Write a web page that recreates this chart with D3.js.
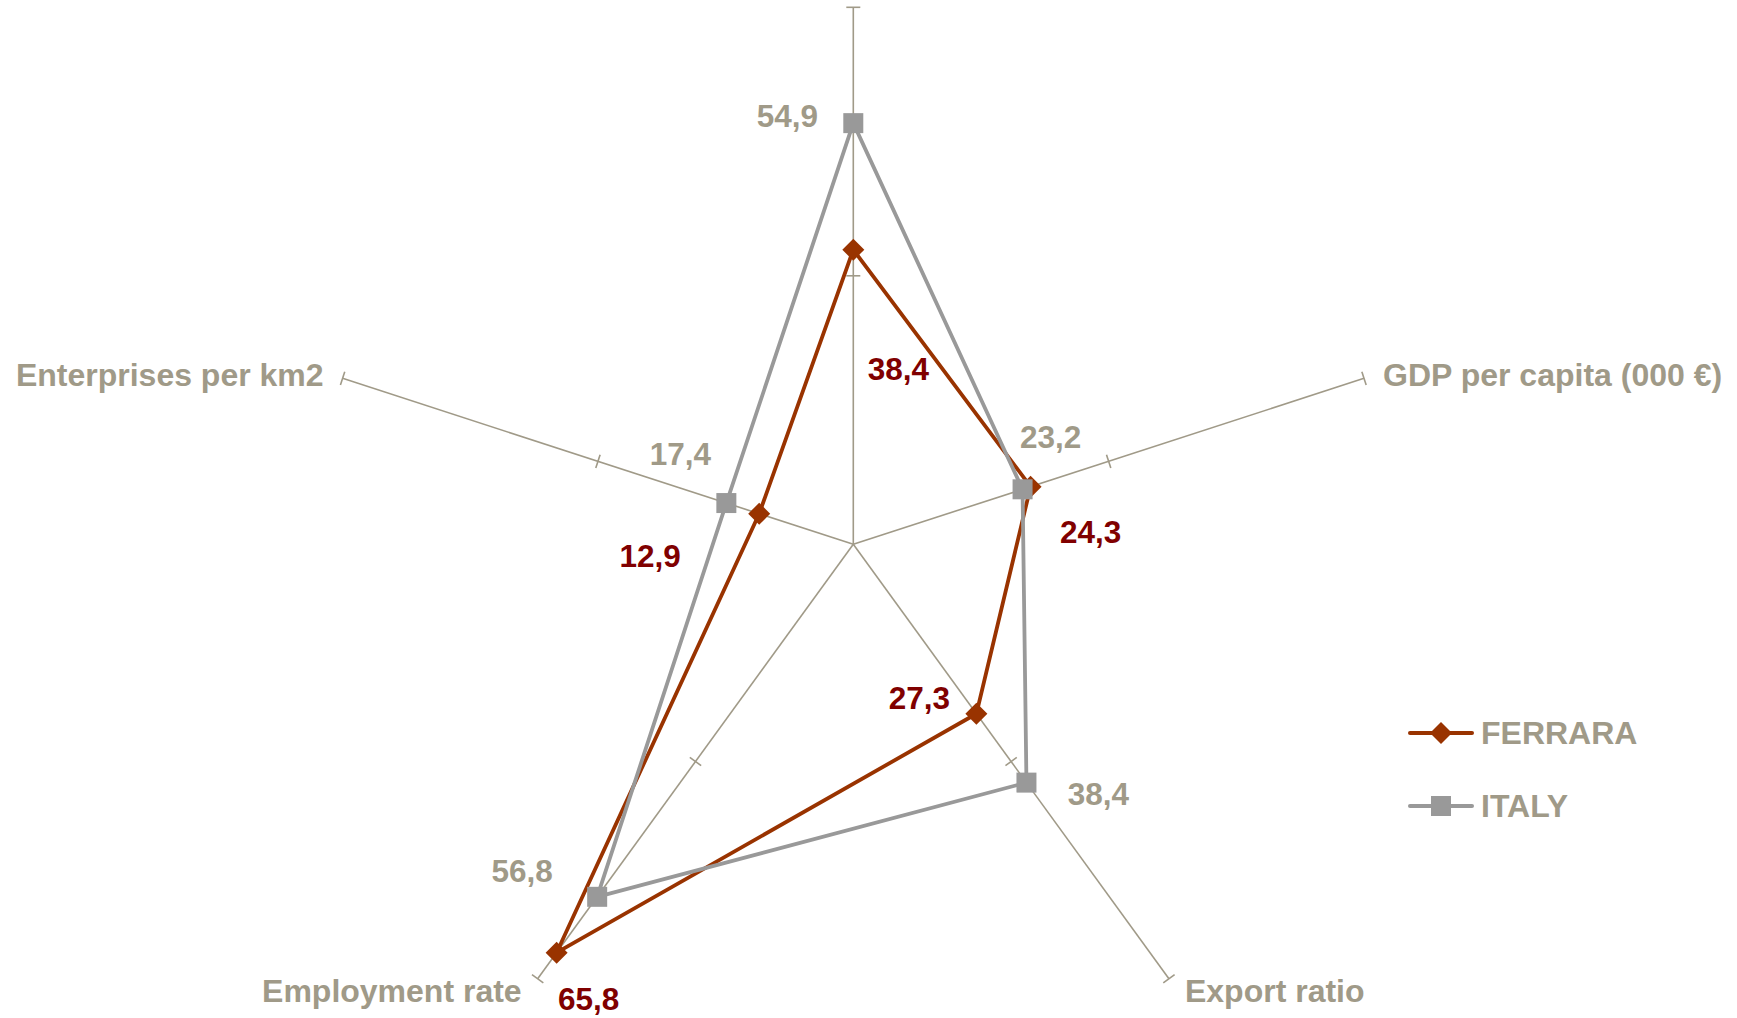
<!DOCTYPE html>
<html>
<head>
<meta charset="utf-8">
<script src="https://cdn.jsdelivr.net/npm/d3@7/dist/d3.min.js"></script>
<style>
	html, body { margin: 0; padding: 0; background: #ffffff; }
	svg { display: block; }
	text { font-family: "Liberation Sans", Arial, sans-serif; font-weight: bold; }
</style>
</head>
<body>
<svg id="chart" width="1737" height="1018"></svg>
<script>
// data
var categories = ["", "GDP per capita (000 €)", "Export ratio", "Employment rate", "Enterprises per km2"];
var seriesNames = ["FERRARA", "ITALY"];
var ferraraValues = [38.4, 24.3, 27.3, 65.8, 12.9];
var italyValues = [54.9, 23.2, 38.4, 56.8, 17.4];
var axisTicks = [35, 70];

// layout
var width = 1737, height = 1018;
var cx = 853.3, cy = 544.3, radius = 537;
var axisColor = "#a09a88";
var ferraraColor = "#993300";
var ferraraLabelColor = "#800000";
var italyColor = "#999999";

// where each value label sits, relative to its point
var ferraraLabelOffsets = [[45, 119], [60, 45], [-57, -16], [32, 46], [-109, 42]];
var italyLabelOffsets = [[-66, -7], [28, -53], [72, 11], [-75, -26], [-46, -49]];

var svg = d3.select("#chart");
var g = svg.append("g").attr("transform", "translate(" + cx + "," + cy + ")");

var r = d3.scaleLinear().domain([0, 70]).range([0, radius]);
var angle = d3.scaleLinear().domain([0, categories.length]).range([0, 2 * Math.PI]);
var fmt = d3.formatLocale({ decimal: ",", thousands: ".", grouping: [3], currency: ["€", ""] }).format(".1f");

function pointAt (i, value) {
	var a = angle(i);
	return [Math.sin(a) * r(value), -Math.cos(a) * r(value)];
};

// axes with tick marks
categories.forEach(function (cat, i) {
	var end = pointAt(i, 70);
	g.append("line")
		.attr("x1", 0).attr("y1", 0)
		.attr("x2", end[0]).attr("y2", end[1])
		.attr("stroke", axisColor)
		.attr("stroke-width", 1.6);

	var a = angle(i);
	var px = Math.cos(a), py = Math.sin(a);
	axisTicks.forEach(function (t) {
		var p = pointAt(i, t);
		g.append("line")
			.attr("x1", p[0] - px * 7).attr("y1", p[1] - py * 7)
			.attr("x2", p[0] + px * 7).attr("y2", p[1] + py * 7)
			.attr("stroke", axisColor)
			.attr("stroke-width", 1.6);
	});

	if (!cat) return;
	var label = g.append("text")
		.attr("fill", axisColor)
		.attr("font-size", "32px")
		.text(cat);
	var left = end[0] < 0;
	var low = end[1] > 100;
	label
		.attr("text-anchor", left ? "end" : "start")
		.attr("x", end[0] + (left ? -1 : 1) * (low ? 16 : 19))
		.attr("y", end[1] + (low ? 23 : 8));
});

var line = d3.line().curve(d3.curveLinearClosed);

function drawSeries (values, color, marker) {
	var pts = values.map(function (v, i) { return pointAt(i, v); });
	g.append("path")
		.attr("d", line(pts))
		.attr("fill", "none")
		.attr("stroke", color)
		.attr("stroke-width", 3.8)
		.attr("stroke-linejoin", "round");

	g.selectAll(null)
		.data(pts)
		.enter()
		.append("path")
		.attr("transform", function (d) { return "translate(" + d[0] + "," + d[1] + ")"; })
		.attr("d", marker)
		.attr("fill", color);
};

var diamond = "M0,-11L11,0L0,11L-11,0Z";
var square = "M-10,-10H10V10H-10Z";

drawSeries(ferraraValues, ferraraColor, diamond);
drawSeries(italyValues, italyColor, square);

function drawLabels (values, offsets, color) {
	g.selectAll(null)
		.data(values)
		.enter()
		.append("text")
		.attr("x", function (d, i) { return pointAt(i, d)[0] + offsets[i][0]; })
		.attr("y", function (d, i) { return pointAt(i, d)[1] + offsets[i][1]; })
		.attr("dy", "0.36em")
		.attr("text-anchor", "middle")
		.attr("font-size", "31.5px")
		.attr("fill", color)
		.text(function (d) { return fmt(d); });
};

drawLabels(ferraraValues, ferraraLabelOffsets, ferraraLabelColor);
drawLabels(italyValues, italyLabelOffsets, axisColor);

// legend
var legend = svg.append("g").attr("transform", "translate(1410,733)");
var legendColors = [ferraraColor, italyColor];
var legendMarkers = [diamond, square];
seriesNames.forEach(function (name, i) {
	var row = legend.append("g").attr("transform", "translate(0," + (i * 73) + ")");
	row.append("line")
		.attr("x1", 0).attr("x2", 62)
		.attr("stroke", legendColors[i])
		.attr("stroke-width", 4)
		.attr("stroke-linecap", "round");
	row.append("path")
		.attr("transform", "translate(31,0)")
		.attr("d", legendMarkers[i])
		.attr("fill", legendColors[i]);
	row.append("text")
		.attr("x", 71)
		.attr("y", 11)
		.attr("font-size", "32px")
		.attr("fill", axisColor)
		.text(name);
});
</script>
</body>
</html>
